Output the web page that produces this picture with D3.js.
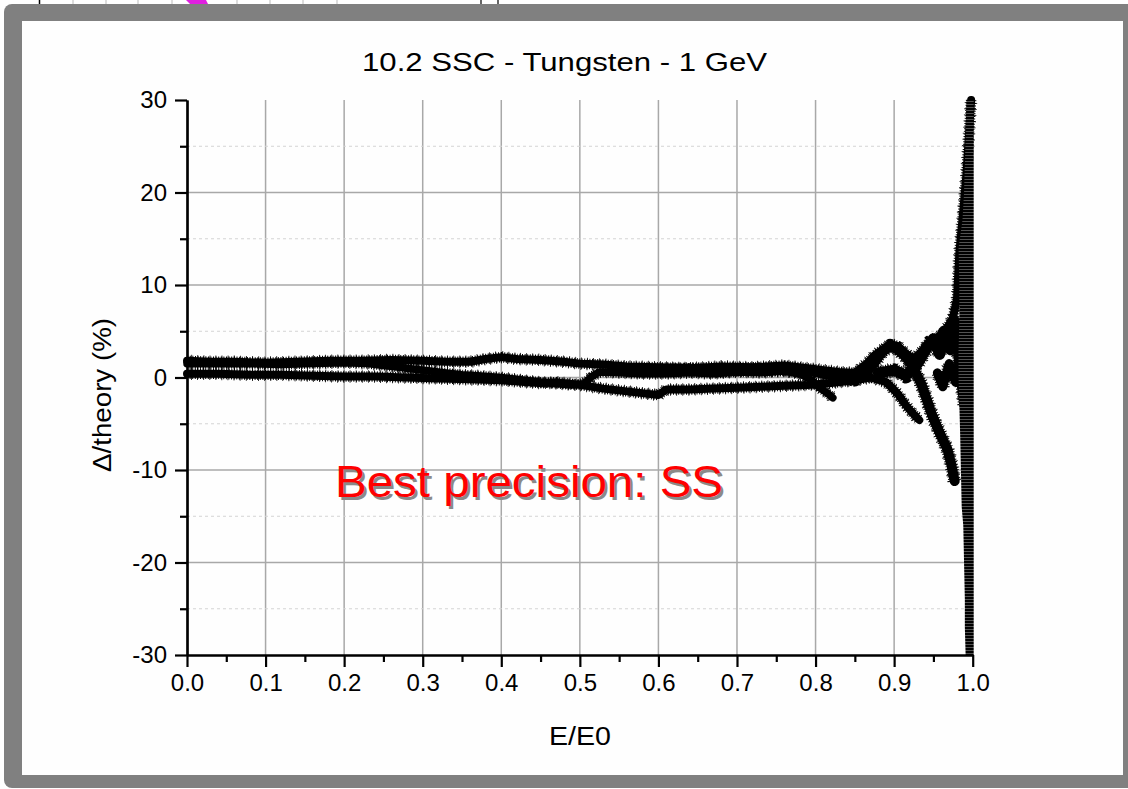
<!DOCTYPE html>
<html><head><meta charset="utf-8">
<script src="https://cdn.jsdelivr.net/npm/d3@7"></script>
<style>
body{margin:0;background:#fff}
svg{display:block}
text{font-family:"Liberation Sans",Arial,sans-serif}
</style>
</head><body>
<svg id="c" width="1128" height="789"></svg>
<script>
// ---------- text ----------
const chartTitle = "10.2 SSC - Tungsten - 1 GeV";
const xTitle = "E/E0";
const yTitle = "Δ/theory (%)";
const annotation = "Best precision: SS";

// ---------- ticks ----------
const xTickValues = [0, 0.1, 0.2, 0.3, 0.4, 0.5, 0.6, 0.7, 0.8, 0.9, 1.0];
const xTickLabels = ["0.0","0.1","0.2","0.3","0.4","0.5","0.6","0.7","0.8","0.9","1.0"];
const xMinorValues = [0.05, 0.15, 0.25, 0.35, 0.45, 0.55, 0.65, 0.75, 0.85, 0.95];
const yTickValues = [-30, -20, -10, 0, 10, 20, 30];
const yTickLabels = ["-30","-20","-10","0","10","20","30"];
const yMinorValues = [-25, -15, -5, 5, 15, 25];

// ---------- series (E/E0, deviation %) ----------
const s1x = [0, 0.03, 0.06, 0.1, 0.14, 0.18, 0.22, 0.26, 0.3, 0.33, 0.36, 0.38, 0.40, 0.42, 0.45, 0.48, 0.5, 0.53, 0.56, 0.6, 0.64, 0.68, 0.72, 0.76, 0.79, 0.81, 0.83, 0.85, 0.865, 0.875, 0.885, 0.895, 0.905, 0.915, 0.925, 0.935, 0.945, 0.955, 0.965, 0.975, 0.98, 0.983, 0.988, 0.992, 0.995, 0.998];
const s1y = [1.8, 1.7, 1.7, 1.6, 1.7, 1.8, 1.8, 1.9, 1.8, 1.7, 1.7, 2.0, 2.2, 2.0, 1.9, 1.7, 1.5, 1.4, 1.2, 1.1, 1.0, 1.2, 1.1, 1.3, 1.0, 0.8, 0.6, 0.5, 1.5, 2.4, 3.0, 3.6, 3.4, 2.6, 2.0, 2.8, 3.9, 4.3, 5.0, 6.5, 8.5, 13.5, 18, 22, 26, 30];

const s2x = [0, 0.04, 0.08, 0.12, 0.16, 0.2, 0.23, 0.25, 0.27, 0.29, 0.31, 0.33, 0.35, 0.37, 0.4, 0.43, 0.46, 0.49, 0.505, 0.515, 0.525, 0.55, 0.58, 0.61, 0.64, 0.67, 0.7, 0.73, 0.76, 0.78, 0.795, 0.805, 0.815, 0.822];
const s2y = [1.5, 1.5, 1.5, 1.4, 1.5, 1.6, 1.5, 1.3, 1.1, 0.9, 0.7, 0.5, 0.3, 0.2, 0.0, -0.3, -0.6, -0.8, -0.7, 0.1, 0.6, 0.5, 0.4, 0.4, 0.5, 0.4, 0.6, 0.5, 0.7, 0.4, -0.3, -1.1, -1.7, -2.2];

const s3x = [0, 0.04, 0.08, 0.12, 0.16, 0.2, 0.24, 0.28, 0.32, 0.36, 0.4, 0.43, 0.45, 0.47, 0.5, 0.53, 0.56, 0.59, 0.6, 0.61, 0.64, 0.67, 0.7, 0.73, 0.76, 0.79, 0.82, 0.85, 0.87, 0.89, 0.905, 0.915, 0.925, 0.932];
const s3y = [0.4, 0.4, 0.3, 0.3, 0.2, 0.1, 0.1, 0.0, -0.1, -0.2, -0.3, -0.5, -0.6, -0.5, -0.8, -1.2, -1.5, -1.8, -1.9, -1.3, -1.3, -1.2, -1.1, -1.0, -0.9, -0.8, -0.6, -0.3, 0.0, -0.5, -1.8, -3.0, -4.0, -4.6];

const s4x = [0.56, 0.6, 0.64, 0.68, 0.72, 0.76, 0.8, 0.83, 0.85, 0.865, 0.875, 0.885, 0.895, 0.905, 0.915, 0.925, 0.935, 0.94, 0.948, 0.958, 0.968, 0.973, 0.977];
const s4y = [0.7, 0.8, 0.9, 0.7, 0.9, 0.8, 0.6, 0.0, -0.3, 0.6, 1.6, 2.8, 3.4, 3.0, 2.2, 1.0, -0.8, -2.0, -4.0, -6.0, -7.8, -9.5, -11.2];

const s5x = [0.88, 0.9, 0.915, 0.93, 0.94, 0.95, 0.958, 0.965, 0.972, 0.978, 0.984, 0.99];
const s5y = [0.5, 0.8, 0.2, 1.5, 3.0, 4.2, 2.5, 4.8, 3.0, 6.0, 1.0, -3.0];

const s6x = [0.955, 0.962, 0.97, 0.978, 0.985, 0.99];
const s6y = [0.5, -1.0, 1.5, -0.5, 2.0, 0.0];

// dense spread at E/E0 -> 1 : level and left extent of the band
const edgeY    = [-30, -27, -24, -20, -16, -14, -10, -6, -3, 0, 3, 6, 10, 14, 17, 20, 23, 26, 30];
const edgeLeft = [0.991, 0.990, 0.990, 0.989, 0.988, 0.986, 0.985, 0.984, 0.983, 0.982, 0.982, 0.983, 0.983, 0.982, 0.987, 0.989, 0.990, 0.991, 0.992];

// ---------- drawing ----------
const svg = d3.select("#c");
const W = 1128, H = 789;

// strip of the previous slide visible on top
svg.append("rect").attr("x",0).attr("y",0).attr("width",W).attr("height",5).attr("fill","#fff");
[73,106,138,172,237,270,303,337].forEach(px=>svg.append("line").attr("x1",px).attr("x2",px).attr("y1",0).attr("y2",4).attr("stroke","#bbb").attr("stroke-width",1));
svg.append("line").attr("x1",39.5).attr("x2",39.5).attr("y1",0).attr("y2",4).attr("stroke","#000").attr("stroke-width",1.5);
svg.append("path").attr("d","M186,0 L206,0 L208,4 L190,4 Z").attr("fill","#e020e0");
svg.append("line").attr("x1",481).attr("x2",481).attr("y1",0).attr("y2",4).attr("stroke","#000").attr("stroke-width",1.2);
svg.append("line").attr("x1",498).attr("x2",498).attr("y1",0).attr("y2",4).attr("stroke","#000").attr("stroke-width",1.2);

// frame
svg.append("rect").attr("x",4).attr("y",4).attr("width",W+20).attr("height",784).attr("rx",8).attr("fill","#808080");
svg.append("rect").attr("x",22).attr("y",21).attr("width",1101).attr("height",754).attr("fill","#fefefe");

const L = 187, R = 972.7, T = 100, B = 655;
const x = d3.scaleLinear().domain([0,1]).range([L,R]);
const y = d3.scaleLinear().domain([-30,30]).range([B,T]);

const defs = svg.append("defs");
const pat = defs.append("pattern").attr("id","hatch").attr("width",8).attr("height",3).attr("patternUnits","userSpaceOnUse");
pat.append("rect").attr("width",8).attr("height",3).attr("fill","#000");
pat.append("rect").attr("y",2).attr("width",8).attr("height",0.8).attr("fill","#666");

// grid
const g = svg.append("g");
g.selectAll(".vg").data(xTickValues.slice(1,-1)).join("line")
  .attr("x1",d=>x(d)).attr("x2",d=>x(d)).attr("y1",T).attr("y2",B)
  .attr("stroke","#a8a8a8").attr("stroke-width",1.5);
g.selectAll(".hg").data(yTickValues.slice(1,-1)).join("line")
  .attr("x1",L).attr("x2",R).attr("y1",d=>y(d)).attr("y2",d=>y(d))
  .attr("stroke","#a8a8a8").attr("stroke-width",1.5);
g.selectAll(".mg").data(yMinorValues).join("line")
  .attr("x1",L).attr("x2",R).attr("y1",d=>y(d)).attr("y2",d=>y(d))
  .attr("stroke","#d4d4d4").attr("stroke-width",1).attr("stroke-dasharray","3,3");

// data
const line = d3.line().x(d=>x(d[0])).y(d=>y(d[1])).curve(d3.curveLinear);
const series = [[s1x,s1y,8],[s2x,s2y,7.5],[s3x,s3y,8],[s4x,s4y,10],[s5x,s5y,11],[s6x,s6y,9]].map(([a,b,w])=>({w, pts:a.map((v,i)=>[v,b[i]])}));
const dg = svg.append("g");
dg.selectAll(".core").data(series).join("path")
  .attr("d",d=>line(d.pts)).attr("fill","none").attr("stroke","#000").attr("stroke-width",d=>d.w)
  .attr("stroke-linejoin","round").attr("stroke-linecap","round");
dg.selectAll(".fuzz1").data(series).join("path")
  .attr("d",d=>line(d.pts)).attr("fill","none").attr("stroke","#000").attr("stroke-width",d=>d.w+2.5)
  .attr("stroke-dasharray","1,1.6").attr("stroke-linejoin","round");
dg.selectAll(".fuzz2").data(series).join("path")
  .attr("d",d=>line(d.pts)).attr("fill","none").attr("stroke","#000").attr("stroke-width",d=>d.w+4.5)
  .attr("stroke-dasharray","0.8,5.3").attr("stroke-dashoffset",2).attr("stroke-linejoin","round");

const edge = edgeY.map((v,i)=>({y:v,l:edgeLeft[i]}));
const area = d3.area().y(d=>y(d.y)).x0(d=>x(d.l)).x1(()=>x(1.0)+1);
dg.append("path").datum(edge).attr("d",area).attr("fill","url(#hatch)");

// axes
const ax = svg.append("g");
const xAxis = d3.axisBottom(x).tickValues(xTickValues).tickFormat((d,i)=>xTickLabels[i]).tickSize(12).tickSizeOuter(0).tickPadding(7);
const xMinor = d3.axisBottom(x).tickValues(xMinorValues).tickFormat("").tickSize(7).tickSizeOuter(0);
const yAxis = d3.axisLeft(y).tickValues(yTickValues).tickFormat((d,i)=>yTickLabels[i]).tickSize(12).tickSizeOuter(0).tickPadding(8);
const yMinor = d3.axisLeft(y).tickValues(yMinorValues).tickFormat("").tickSize(7).tickSizeOuter(0);
function style(sel){
  sel.attr("font-size",null).attr("font-family",null);
  sel.select(".domain").attr("stroke","#000").attr("stroke-width",2.2);
  sel.selectAll(".tick line").attr("stroke","#000").attr("stroke-width",2.2);
  sel.selectAll(".tick text").attr("fill","#000").style("font-size","24px").style("font-family","'Liberation Sans',Arial,sans-serif");
}
ax.append("g").attr("transform",`translate(0,${B})`).call(xMinor).call(style);
ax.append("g").attr("transform",`translate(0,${B})`).call(xAxis).call(style);
ax.append("g").attr("transform",`translate(${L},0)`).call(yMinor).call(style);
ax.append("g").attr("transform",`translate(${L},0)`).call(yAxis).call(style);

// titles
svg.append("text").attr("x",564.5).attr("y",71).attr("text-anchor","middle")
  .attr("textLength",405).attr("lengthAdjust","spacingAndGlyphs")
  .style("font-size","26px").attr("fill","#000").text(chartTitle);
svg.append("text").attr("x",580).attr("y",745).attr("text-anchor","middle")
  .attr("textLength",62).attr("lengthAdjust","spacingAndGlyphs")
  .style("font-size","25px").attr("fill","#000").text(xTitle);
svg.append("text").attr("transform","translate(111,395) rotate(-90)").attr("text-anchor","middle")
  .attr("textLength",154).attr("lengthAdjust","spacingAndGlyphs")
  .style("font-size","25px").attr("fill","#000").text(yTitle);

// annotation with shadow
svg.append("text").attr("x",337.5).attr("y",499.5).attr("textLength",388).attr("lengthAdjust","spacingAndGlyphs")
  .style("font-size","45px").attr("fill","#8a8a8a").text(annotation);
svg.append("text").attr("x",335).attr("y",497).attr("textLength",388).attr("lengthAdjust","spacingAndGlyphs")
  .style("font-size","45px").attr("fill","#ff0000").text(annotation);
</script>
</body></html>
